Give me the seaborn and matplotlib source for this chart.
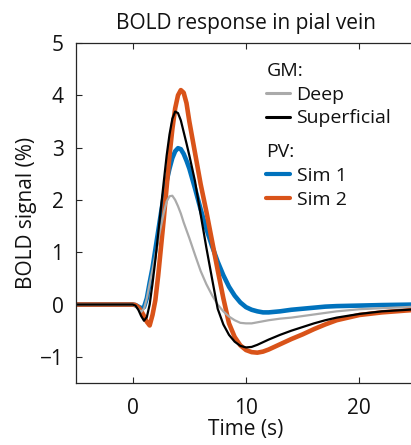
import numpy as np
import pandas as pd
import matplotlib
matplotlib.use("Agg")
import matplotlib.pyplot as plt
import seaborn as sns
from matplotlib.lines import Line2D

# ---- data ----
time_s = [-5, -0.5, 0, 0.25, 0.5, 0.75, 1, 1.25, 1.5, 1.75, 2, 2.25, 2.5, 2.75, 3, 3.25,
          3.5, 3.75, 4, 4.25, 4.5, 4.75, 5, 5.5, 6, 6.5, 7, 7.5, 8, 8.5, 9, 9.5, 10,
          10.5, 11, 11.5, 12, 13, 14, 15, 16, 17, 18, 20, 22, 25]

gm_deep = [0, 0, 0, -0.03, -0.09, -0.14, -0.08, 0.12, 0.4, 0.66, 0.95, 1.23, 1.5, 1.76,
           1.97, 2.07, 2.08, 2.0, 1.88, 1.74, 1.57, 1.42, 1.27, 0.95, 0.64, 0.39, 0.18,
           0.0, -0.13, -0.23, -0.3, -0.35, -0.36, -0.36, -0.34, -0.32, -0.30, -0.27,
           -0.25, -0.22, -0.19, -0.16, -0.13, -0.09, -0.07, -0.04]

gm_superficial = [0, 0, 0, -0.02, -0.1, -0.22, -0.31, -0.24, 0.0, 0.4, 0.85, 1.35, 1.86,
                  2.36, 2.85, 3.25, 3.55, 3.69, 3.66, 3.52, 3.3, 3.08, 2.85, 2.36, 1.72,
                  1.09, 0.5, -0.08, -0.38, -0.58, -0.71, -0.79, -0.82, -0.81, -0.77,
                  -0.72, -0.67, -0.58, -0.5, -0.43, -0.36, -0.3, -0.25, -0.18, -0.13, -0.09]

pv_sim1 = [0, 0, 0, -0.01, -0.04, -0.07, -0.05, 0.12, 0.42, 0.7, 1.05, 1.4, 1.75, 2.08,
           2.36, 2.6, 2.8, 2.93, 2.99, 2.97, 2.88, 2.75, 2.6, 2.22, 1.82, 1.45, 1.12,
           0.82, 0.56, 0.34, 0.17, 0.04, -0.05, -0.1, -0.13, -0.15, -0.15, -0.13, -0.1,
           -0.08, -0.06, -0.04, -0.03, -0.02, -0.01, 0.0]

pv_sim2 = [0, 0, 0, -0.01, -0.05, -0.12, -0.22, -0.33, -0.40, -0.2, 0.08, 0.55, 1.1, 1.65,
           2.25, 2.85, 3.35, 3.75, 4.0, 4.1, 4.05, 3.85, 3.5, 2.9, 2.3, 1.78, 1.22, 0.66,
           0.12, -0.36, -0.62, -0.78, -0.87, -0.91, -0.92, -0.9, -0.86, -0.76, -0.66,
           -0.57, -0.47, -0.38, -0.3, -0.2, -0.15, -0.1]

x_ticks = [0, 10, 20]
y_ticks = [-1, 0, 1, 2, 3, 4, 5]

series = [
    ("PV", "Sim 1", pv_sim1, "#0072BD", 3.3),
    ("PV", "Sim 2", pv_sim2, "#D95319", 3.3),
    ("GM", "Deep", gm_deep, "#AAAAAA", 1.6),
    ("GM", "Superficial", gm_superficial, "#000000", 1.6),
]

sns.set_theme(style="white")
plt.rcParams["font.family"] = ["Open Sans", "DejaVu Sans"]
plt.rcParams["axes.edgecolor"] = "#262626"
plt.rcParams["xtick.color"] = "#262626"
plt.rcParams["ytick.color"] = "#262626"

fig = plt.figure(figsize=(4.11, 4.45), dpi=100)
ax = fig.add_axes([76 / 411, 62 / 445, 340 / 411, 340 / 445])

handles = {}
for group, name, vals, col, lw in series:
    df = pd.DataFrame({"t": time_s, "v": vals})
    sns.lineplot(data=df, x="t", y="v", ax=ax, color=col, linewidth=lw,
                 legend=False, solid_capstyle="round", solid_joinstyle="round")
    handles[name] = ax.lines[-1]

ax.set_xlim(-5, 25)
ax.set_ylim(-1.5, 5)
ax.set_xticks(x_ticks)
ax.set_yticks(y_ticks)
ax.tick_params(direction="in", length=4, width=0.8, labelsize=15,
               top=True, bottom=True, left=True, right=False,
               labelcolor="#111111")
ax.tick_params(axis="x", pad=11)
ax.tick_params(axis="y", pad=9)
for s in ["top", "left", "bottom"]:
    ax.spines[s].set_linewidth(0.9)
ax.spines["right"].set_visible(False)

ax.set_title("BOLD response in pial vein", fontsize=15, pad=10, color="#111111")
ax.set_xlabel("Time (s)", fontsize=15, labelpad=0, color="#111111")
ax.set_ylabel("BOLD signal (%)", fontsize=15, labelpad=2, color="#111111")

leg_kw = dict(frameon=False, fontsize=14, title_fontsize=14, alignment="left",
              handlelength=1.2, handletextpad=0.35, labelspacing=0.3,
              borderpad=0, borderaxespad=0, loc="upper left")

def proxy(name):
    h = handles[name]
    return Line2D([], [], color=h.get_color(), linewidth=2.2 if h.get_linewidth() < 2 else 3.0)

leg1 = ax.legend([proxy("Deep"), proxy("Superficial")], ["Deep", "Superficial"],
                 title="GM:", bbox_to_anchor=(0.56, 0.945), **leg_kw)
ax.add_artist(leg1)
leg2 = ax.legend([proxy("Sim 1"), proxy("Sim 2")], ["Sim 1", "Sim 2"],
                 title="PV:", bbox_to_anchor=(0.56, 0.705), **leg_kw)
for lg in (leg1, leg2):
    for t in lg.get_texts():
        t.set_color("#111111")
    lg.get_title().set_color("#111111")

fig.savefig("out.png", dpi=100)
